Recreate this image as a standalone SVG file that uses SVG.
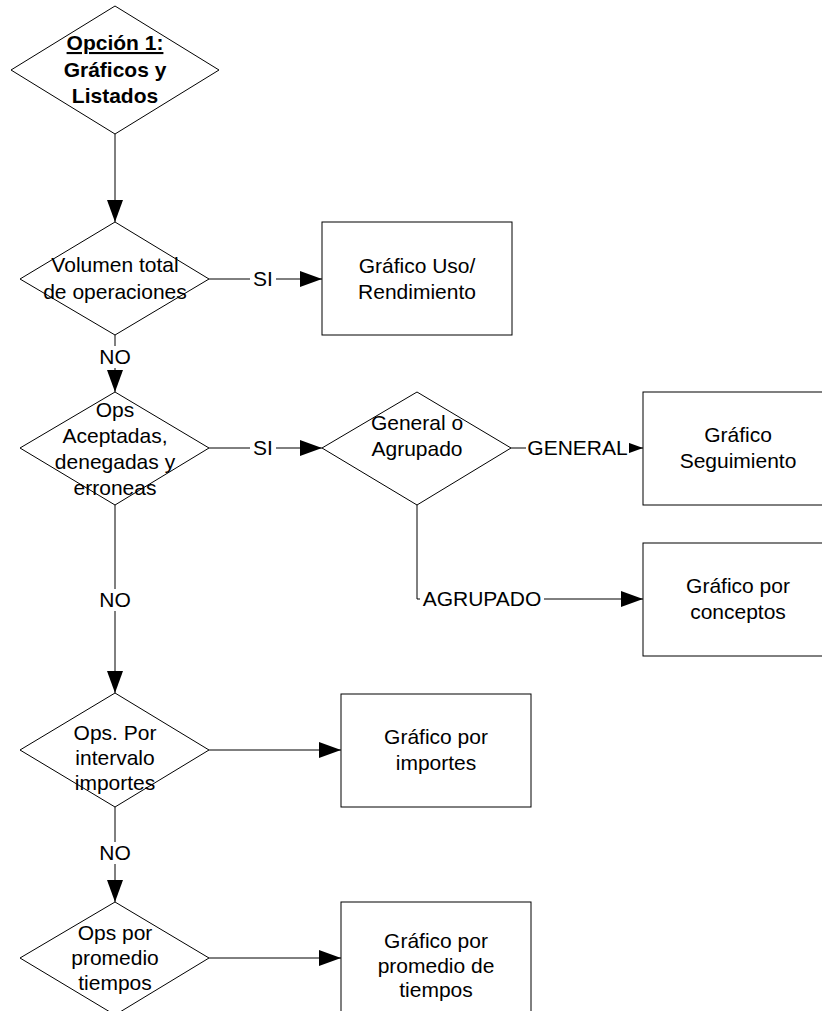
<svg xmlns="http://www.w3.org/2000/svg" width="822" height="1011" viewBox="0 0 822 1011">
<style>
.shape{fill:#fff;stroke:#000;stroke-width:1}
.t{font-family:"Liberation Sans",Arial,sans-serif;font-size:21px;fill:#000;text-anchor:middle}
.b{font-weight:bold}
.c{fill:none;stroke:#000;stroke-width:1}
.lb{fill:#fff;stroke:none}
</style>
<defs>
<marker id="arr" markerWidth="22" markerHeight="16" refX="22" refY="8" orient="auto" markerUnits="userSpaceOnUse">
<path d="M0,0 L22,8 L0,16 Z" fill="#000"/>
</marker>
</defs>
<rect width="822" height="1011" fill="#fff"/>

<g id="connectors">
<line class="c" x1="115" y1="134" x2="115" y2="222" marker-end="url(#arr)"/>
<line class="c" x1="209" y1="279" x2="322" y2="279" marker-end="url(#arr)"/>
<line class="c" x1="115" y1="335" x2="115" y2="392" marker-end="url(#arr)"/>
<line class="c" x1="209" y1="448" x2="322" y2="448" marker-end="url(#arr)"/>
<line class="c" x1="511" y1="448" x2="643" y2="448" marker-end="url(#arr)"/>
<polyline class="c" points="417,505 417,599 643,599" marker-end="url(#arr)"/>
<line class="c" x1="115" y1="505" x2="115" y2="693" marker-end="url(#arr)"/>
<line class="c" x1="209" y1="750" x2="341" y2="750" marker-end="url(#arr)"/>
<line class="c" x1="115" y1="807" x2="115" y2="902" marker-end="url(#arr)"/>
<line class="c" x1="209" y1="958" x2="341" y2="958" marker-end="url(#arr)"/>
<rect class="lb" x="250" y="268" width="26" height="22"/>
<text class="t" x="263" y="286">SI</text>
<rect class="lb" x="100" y="346" width="30" height="22"/>
<text class="t" x="115" y="364">NO</text>
<rect class="lb" x="250" y="437" width="26" height="22"/>
<text class="t" x="263" y="455">SI</text>
<rect class="lb" x="526" y="437" width="103" height="22"/>
<text class="t" x="577.5" y="455">GENERAL</text>
<rect class="lb" x="420" y="588" width="124" height="22"/>
<text class="t" x="482" y="606">AGRUPADO</text>
<rect class="lb" x="100" y="589" width="30" height="22"/>
<text class="t" x="115" y="607">NO</text>
<rect class="lb" x="100" y="842" width="30" height="22"/>
<text class="t" x="115" y="860">NO</text>
</g>

<g id="start">
<polygon class="shape" points="115,6 219,70 115,134 11,70"/>
<text class="t b" x="115" y="50" text-decoration="underline">Opción 1:</text>
<text class="t b" x="115" y="77">Gráficos y</text>
<text class="t b" x="115" y="103">Listados</text>
</g>

<g id="d-volumen">
<polygon class="shape" points="115,222 209,279 115,335 20,279"/>
<text class="t" x="115" y="272">Volumen total</text>
<text class="t" x="115" y="299">de operaciones</text>
</g>

<g id="b-uso">
<rect class="shape" x="322" y="222" width="190" height="113"/>
<text class="t" x="417" y="273">Gráfico Uso/</text>
<text class="t" x="417" y="299">Rendimiento</text>
</g>

<g id="d-ops">
<polygon class="shape" points="115,392 209,448 115,505 20,448"/>
<text class="t" x="115" y="417">Ops</text>
<text class="t" x="115" y="443">Aceptadas,</text>
<text class="t" x="115" y="469">denegadas y</text>
<text class="t" x="115" y="495">erroneas</text>
</g>

<g id="d-general">
<polygon class="shape" points="417,392 511,448 417,505 322,448"/>
<text class="t" x="417" y="430">General o</text>
<text class="t" x="417" y="456">Agrupado</text>
</g>

<g id="b-seguimiento">
<rect class="shape" x="643" y="392" width="190" height="113"/>
<text class="t" x="738" y="442">Gráfico</text>
<text class="t" x="738" y="468">Seguimiento</text>
</g>

<g id="b-conceptos">
<rect class="shape" x="643" y="543" width="190" height="113"/>
<text class="t" x="738" y="593">Gráfico por</text>
<text class="t" x="738" y="619">conceptos</text>
</g>

<g id="d-importes">
<polygon class="shape" points="115,693 209,750 115,807 20,750"/>
<text class="t" x="115" y="740">Ops. Por</text>
<text class="t" x="115" y="765">intervalo</text>
<text class="t" x="115" y="790">importes</text>
</g>

<g id="b-importes">
<rect class="shape" x="341" y="694" width="190" height="113"/>
<text class="t" x="436" y="744">Gráfico por</text>
<text class="t" x="436" y="770">importes</text>
</g>

<g id="d-tiempos">
<polygon class="shape" points="115,902 209,958 115,1015 20,958"/>
<text class="t" x="115" y="940">Ops por</text>
<text class="t" x="115" y="965">promedio</text>
<text class="t" x="115" y="990">tiempos</text>
</g>

<g id="b-tiempos">
<rect class="shape" x="341" y="902" width="190" height="113"/>
<text class="t" x="436" y="948">Gráfico por</text>
<text class="t" x="436" y="973">promedio de</text>
<text class="t" x="436" y="997">tiempos</text>
</g>
</svg>
